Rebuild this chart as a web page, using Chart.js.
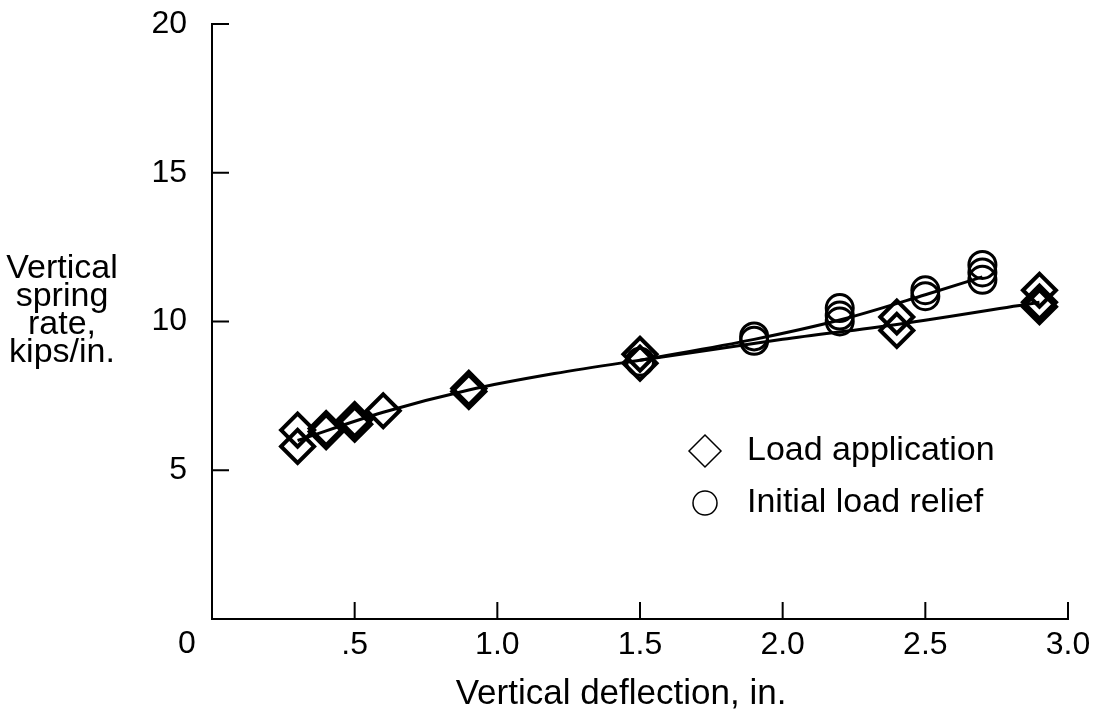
<!DOCTYPE html>
<html>
<head>
<meta charset="utf-8">
<title>Vertical spring rate</title>
<script src="https://cdn.jsdelivr.net/npm/chart.js@4/dist/chart.umd.min.js"></script>
<style>
  html, body { margin: 0; padding: 0; background: #fff; }
  #wrap { position: relative; width: 1101px; height: 718px; }
</style>
</head>
<body>
<div id="wrap"><canvas id="springChart"></canvas></div>
<script>
// measured points
var loadX = [0.3, 0.3, 0.4, 0.4, 0.5, 0.5, 0.6, 0.9, 0.9, 1.5, 1.5, 2.4, 2.4, 2.9, 2.9, 2.9];
var loadY = [6.35, 5.8, 6.4, 6.3, 6.7, 6.55, 7.0, 7.75, 7.65, 8.9, 8.6, 10.15, 9.7, 11.05, 10.65, 10.5];
var reliefX = [1.5, 1.9, 1.9, 2.2, 2.2, 2.2, 2.5, 2.5, 2.7, 2.7, 2.7];
var reliefY = [8.65, 9.5, 9.35, 10.45, 10.2, 10.0, 11.05, 10.85, 11.9, 11.65, 11.4];

// faired curves
var loadFitX = [0.3, 0.6, 0.9, 1.2, 1.5, 2.0, 2.4, 2.9];
var loadFitY = [6.0, 6.95, 7.7, 8.25, 8.7, 9.4, 9.9, 10.65];
var reliefFitX = [1.5, 1.9, 2.2, 2.5, 2.7];
var reliefFitY = [8.7, 9.4, 10.05, 10.9, 11.5];

var xTicks = ['0', '.5', '1.0', '1.5', '2.0', '2.5', '3.0'];
var yTicks = ['0', '5', '10', '15', '20'];
var yTitle = ['Vertical', 'spring', 'rate,', 'kips/in.'];
var xTitle = 'Vertical deflection, in.';
var legendLabels = ['Load application', 'Initial load relief'];

var FONT = '"Liberation Sans", Arial, Helvetica, sans-serif';

function pts(xs, ys) {
  return xs.map(function (x, i) { return { x: x, y: ys[i] }; });
}

// ticks drawn inward plus the free text (titles, legend, shared origin "0")
var extras = {
  id: 'extras',
  afterDraw: function (chart) {
    var ctx = chart.ctx;
    var xs = chart.scales.x, ys = chart.scales.y;
    var a = chart.chartArea;
    ctx.save();
    ctx.strokeStyle = '#000';
    ctx.lineWidth = 2;
    ctx.beginPath();
    xs.ticks.forEach(function (t) {
      if (t.value === 0) return;
      var px = xs.getPixelForValue(t.value);
      ctx.moveTo(px, a.bottom);
      ctx.lineTo(px, a.bottom - 17);
    });
    ys.ticks.forEach(function (t) {
      if (t.value === 0) return;
      var py = ys.getPixelForValue(t.value);
      ctx.moveTo(a.left, py);
      ctx.lineTo(a.left + 17, py);
    });
    ctx.stroke();

    ctx.fillStyle = '#000';
    ctx.textBaseline = 'alphabetic';
    ctx.textAlign = 'center';
    ctx.font = '32px ' + FONT;
    ctx.fillText(xTicks[0], 187, 653);
    ctx.font = '34px ' + FONT;
    yTitle.forEach(function (line, i) {
      ctx.fillText(line, 62, 278 + i * 28);
    });
    ctx.font = '35px ' + FONT;
    ctx.fillText(xTitle, 621, 704);

    // legend
    var legendY = [451, 503];
    var styles = ['rectRot', 'circle'];
    var radii = [16, 12];
    ctx.font = '34px ' + FONT;
    ctx.textAlign = 'left';
    ctx.textBaseline = 'middle';
    legendLabels.forEach(function (label, i) {
      ctx.lineWidth = 1.5;
      ctx.strokeStyle = '#000';
      ctx.fillStyle = 'rgba(0,0,0,0)';
      Chart.helpers.drawPoint(ctx, { pointStyle: styles[i], radius: radii[i], borderWidth: 1.5, rotation: 0 }, 705, legendY[i]);
      ctx.fillStyle = '#000';
      ctx.fillText(label, 747, legendY[i]);
    });
    ctx.restore();
  }
};

var ctx = document.getElementById('springChart');
new Chart(ctx, {
  type: 'scatter',
  data: {
    datasets: [
      {
        label: 'load fit',
        data: pts(loadFitX, loadFitY),
        showLine: true,
        borderColor: '#000',
        borderWidth: 3,
        pointRadius: 0,
        cubicInterpolationMode: 'monotone'
      },
      {
        label: 'relief fit',
        data: pts(reliefFitX, reliefFitY),
        showLine: true,
        borderColor: '#000',
        borderWidth: 3,
        pointRadius: 0,
        cubicInterpolationMode: 'monotone'
      },
      {
        label: legendLabels[0],
        data: pts(loadX, loadY),
        pointStyle: 'rectRot',
        pointRadius: 16.5,
        borderWidth: 4,
        borderColor: '#000',
        backgroundColor: 'rgba(0,0,0,0)'
      },
      {
        label: legendLabels[1],
        data: pts(reliefX, reliefY),
        pointStyle: 'circle',
        pointRadius: 13.5,
        borderWidth: 3,
        borderColor: '#000',
        backgroundColor: 'rgba(0,0,0,0)'
      }
    ]
  },
  options: {
    responsive: true,
    maintainAspectRatio: false,
    animation: false,
    layout: { padding: { left: 0, top: 24, right: 33, bottom: 0 } },
    plugins: {
      legend: { display: false },
      tooltip: { enabled: false }
    },
    scales: {
      x: {
        type: 'linear',
        min: 0,
        max: 3,
        grid: { display: false, drawTicks: false },
        border: { display: true, color: '#000', width: 2 },
        ticks: {
          stepSize: 0.5,
          padding: 7,
          color: '#000',
          font: { size: 32, family: FONT },
          maxRotation: 0,
          callback: function (v) {
            if (v === 0) return '';
            return xTicks[Math.round(v * 2)];
          }
        },
        afterFit: function (scale) {
          scale.height = 99;
          scale.paddingLeft = 0;
          scale.paddingRight = 0;
        }
      },
      y: {
        type: 'linear',
        min: 0,
        max: 20,
        grid: { display: false, drawTicks: false },
        border: { display: true, color: '#000', width: 2 },
        ticks: {
          stepSize: 5,
          padding: 25,
          color: '#000',
          font: { size: 32, family: FONT },
          callback: function (v) {
            if (v === 0) return '';
            return yTicks[Math.round(v / 5)];
          }
        },
        afterFit: function (scale) {
          scale.width = 212;
          scale.paddingTop = 0;
          scale.paddingBottom = 0;
        }
      }
    }
  },
  plugins: [extras]
});
</script>
</body>
</html>
